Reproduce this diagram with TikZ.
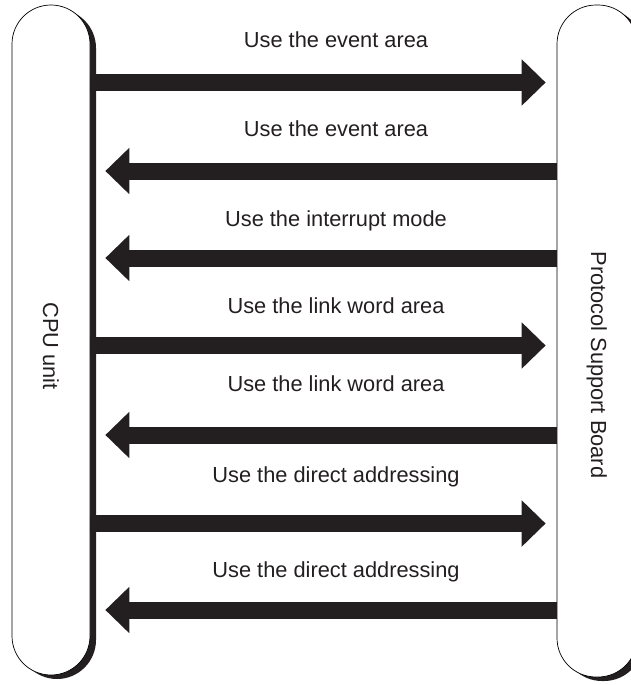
\documentclass[tikz,border=0pt]{standalone}
\usepackage{fontspec}
\setmainfont{Liberation Sans}
\usetikzlibrary{arrows.meta,shadows,calc}
\definecolor{ink}{HTML}{231F20}
\begin{document}
\begin{tikzpicture}[x=1pt,y=-1pt,
  unitbox/.style={draw=black,line width=0.7pt,fill=white,rounded corners=39pt,
    inner sep=0pt,
    drop shadow={shadow xshift=6pt,shadow yshift=-4pt,opacity=1,fill=ink}},
  lbl/.style={font=\fontsize{21.8pt}{26pt}\selectfont,text=ink,inner sep=0pt,anchor=base},
  side/.style={font=\fontsize{21.8pt}{26pt}\selectfont,text=ink,inner sep=0pt,anchor=base,rotate=-90},
  flow/.style={draw=ink,line width=17pt,-{Triangle[width=45pt,length=24pt]}}]
\useasboundingbox (0,0) rectangle (631,685);
\clip (0,0) rectangle (631,685);
\node[unitbox,minimum width=78pt,minimum height=670pt] (cpu) at (51,340) {};
\node[unitbox,minimum width=80pt,minimum height=672pt] (psb) at (597,341) {};
\node[side] (cpulbl) at (43,346) {CPU unit};
\node[side] (psblbl) at (591,365) {Protocol Support Board};
\foreach \i/\yy in {1/82.5,2/171,3/258,4/345.5,5/435,6/523.5,7/610}
  \coordinate (y\i) at (0,\yy);
\node[lbl] (l1) at (336,48) {Use the event area};
\node[lbl] (l2) at (336,136) {Use the event area};
\node[lbl] (l3) at (336,226) {Use the interrupt mode};
\node[lbl] (l4) at (336,313) {Use the link word area};
\node[lbl] (l5) at (336,391) {Use the link word area};
\node[lbl] (l6) at (336,482) {Use the direct addressing};
\node[lbl] (l7) at (336,577) {Use the direct addressing};
\draw[flow,shorten >=11pt] (cpu.east |- y1) -- (psb.west |- y1);
\draw[flow,shorten >=15pt] (psb.west |- y2) -- (cpu.east |- y2);
\draw[flow,shorten >=15pt] (psb.west |- y3) -- (cpu.east |- y3);
\draw[flow,shorten >=11pt] (cpu.east |- y4) -- (psb.west |- y4);
\draw[flow,shorten >=15pt] (psb.west |- y5) -- (cpu.east |- y5);
\draw[flow,shorten >=11pt] (cpu.east |- y6) -- (psb.west |- y6);
\draw[flow,shorten >=15pt] (psb.west |- y7) -- (cpu.east |- y7);
\end{tikzpicture}
\end{document}
